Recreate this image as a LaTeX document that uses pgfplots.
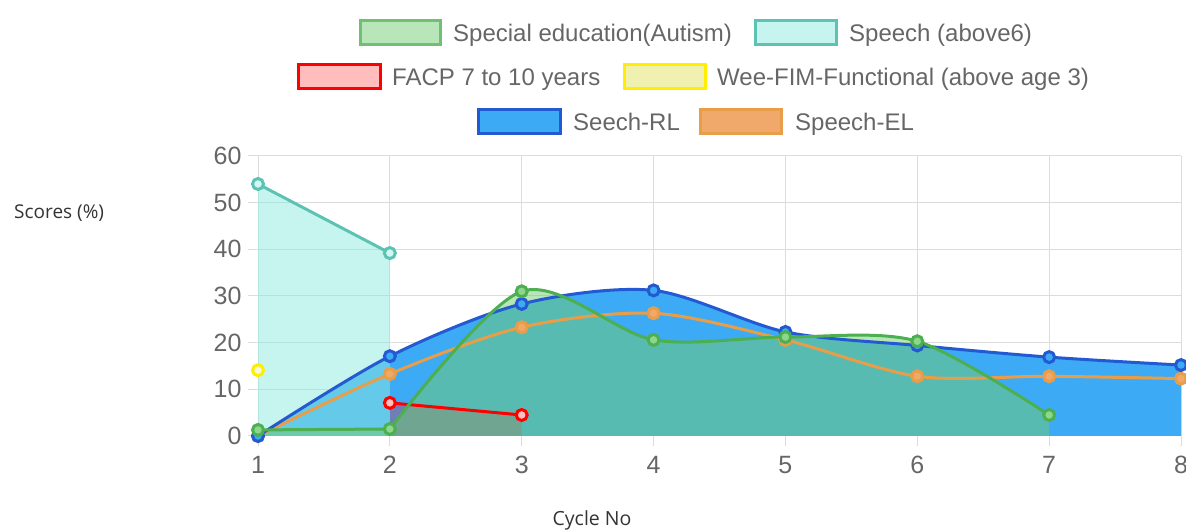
\documentclass[border=0pt]{standalone}
\usepackage{pgfplots}
\pgfplotsset{compat=1.18}
\usepackage{fontspec}
\setmainfont{Liberation Sans}
\newfontfamily\labfont{Open Sans}
\definecolor{gridc}{RGB}{220,220,220}
\definecolor{tickc}{RGB}{102,102,102}
\definecolor{greenl}{RGB}{76,175,80}
\definecolor{greenf}{RGB}{113,205,113}
\definecolor{cyanl}{RGB}{92,195,180}
\definecolor{cyanf}{RGB}{142,234,222}
\definecolor{redl}{RGB}{255,0,0}
\definecolor{yell}{RGB}{255,238,0}
\definecolor{yelf}{RGB}{240,240,176}
\definecolor{bluel}{RGB}{35,90,210}
\definecolor{bluef}{RGB}{61,170,245}
\definecolor{orl}{RGB}{232,158,72}
\definecolor{orf}{RGB}{240,169,106}
\definecolor{labc}{RGB}{51,51,51}
\begin{document}
\begin{tikzpicture}
\useasboundingbox (0pt,0pt) rectangle (1186pt,532pt);
\begin{axis}[
  at={(258pt,96pt)}, anchor=south west, scale only axis,
  width=923pt, height=280pt,
  xmin=1, xmax=8, ymin=0, ymax=60, clip=false,
  axis lines=left, axis line style={-, draw=gridc, line width=1pt},
  grid=major, major grid style={draw=gridc, line width=1pt},
  xtick={1,...,8}, ytick={0,10,...,60},
  tick align=outside, major tick length=10pt,
  tick style={draw=gridc, line width=1pt},
  ticklabel style={font=\fontsize{25}{25}\selectfont, text=tickc},
  xticklabel style={yshift=-7pt},
  yticklabel style={xshift=-3pt},
  /pgf/number format/assume math mode=true,
]
% fills
\addplot[draw=none, fill=bluef, smooth, tension=0.5] coordinates {(1,0) (2,17.1) (3,28.3) (4,31.2) (5,22.3) (6,19.4) (7,16.9) (8,15.2)} \closedcycle;
\addplot[draw=none, fill=redl, fill opacity=0.26] coordinates {(2,7.1) (3,4.5)} \closedcycle;
\addplot[draw=none, fill=cyanf, fill opacity=0.5] coordinates {(1,54) (2,39.2)} \closedcycle;
\addplot[draw=none, fill=greenf, fill opacity=0.5] coordinates {(1,1.3) (2,1.5)} \closedcycle;
\addplot[draw=none, fill=greenf, fill opacity=0.5, smooth, tension=0.5] coordinates {(2,1.5) (3,31) (4,20.6) (5,21.2) (6,20.3) (7,4.5)} \closedcycle;
% lines
\addplot[draw=orl, line width=3pt, smooth, tension=0.5, mark=*, mark size=5.5pt, mark options={line width=3pt, fill=orf, draw=orl}] coordinates {(1,0) (2,13.3) (3,23.3) (4,26.3) (5,20.6) (6,12.8) (7,12.8) (8,12.3)};
\addplot[draw=bluel, line width=3pt, smooth, tension=0.5, mark=*, mark size=5.5pt, mark options={line width=3pt, fill=bluef, draw=bluel}] coordinates {(1,0) (2,17.1) (3,28.3) (4,31.2) (5,22.3) (6,19.4) (7,16.9) (8,15.2)};
\addplot[draw=yell, line width=3pt, mark=*, mark size=5.5pt, mark options={line width=3pt, fill=yelf!50!white, draw=yell}] coordinates {(1,14.1)};
\addplot[draw=redl, line width=3pt, mark=*, mark size=5.5pt, mark options={line width=3pt, fill=redl!25, draw=redl}] coordinates {(2,7.1) (3,4.5)};
\addplot[draw=cyanl, line width=3pt, mark=*, mark size=5.5pt, mark options={line width=3pt, fill=cyanf!40!white, draw=cyanl}] coordinates {(1,54) (2,39.2)};
\addplot[draw=greenl, line width=3pt] coordinates {(1,1.3) (2,1.5)};
\addplot[draw=greenl, line width=3pt, smooth, tension=0.5] coordinates {(2,1.5) (3,31) (4,20.6) (5,21.2) (6,20.3) (7,4.5)};
\addplot[draw=none, mark=*, mark size=5.5pt, mark options={line width=3pt, fill=greenf!80!white, draw=greenl}] coordinates {(1,1.3) (2,1.5) (3,31) (4,20.6) (5,21.2) (6,20.3) (7,4.5)};
\end{axis}
% legend
\tikzset{lt/.style={anchor=base west, inner sep=0pt, text=tickc, font=\fontsize{24}{24}\selectfont}}
\fill[greenf, fill opacity=0.5] (360pt,487pt) rectangle (440pt,511pt);
\draw[greenl!80!white, line width=3pt] (360pt,487pt) rectangle (440pt,511pt);
\node[lt] at (453pt,490.5pt) {Special education(Autism)};
\fill[cyanf, fill opacity=0.5] (755pt,487pt) rectangle (836pt,511pt);
\draw[cyanl, line width=3pt] (755pt,487pt) rectangle (836pt,511pt);
\node[lt] at (849pt,490.5pt) {Speech (above6)};
\fill[redl, fill opacity=0.26] (298pt,443pt) rectangle (380pt,467pt);
\draw[redl, line width=3pt] (298pt,443pt) rectangle (380pt,467pt);
\node[lt] at (392pt,446.5pt) {FACP 7 to 10 years};
\fill[yelf] (624pt,443pt) rectangle (705pt,467pt);
\draw[yell, line width=3pt] (624pt,443pt) rectangle (705pt,467pt);
\node[lt] at (717pt,446.5pt) {Wee-FIM-Functional (above age 3)};
\fill[bluef] (478pt,398pt) rectangle (560pt,422pt);
\draw[bluel, line width=3pt] (478pt,398pt) rectangle (560pt,422pt);
\node[lt] at (573pt,401.5pt) {Seech-RL};
\fill[orf] (700pt,398pt) rectangle (781pt,422pt);
\draw[orl, line width=3pt] (700pt,398pt) rectangle (781pt,422pt);
\node[lt] at (795pt,401.5pt) {Speech-EL};
% axis titles
\node[anchor=west, inner sep=0pt, text=labc, font=\labfont\fontsize{19}{19}\selectfont] at (14pt,319pt) {Scores (\%)};
\node[inner sep=0pt, text=labc, font=\labfont\fontsize{19.5}{19.5}\selectfont] at (592pt,12pt) {Cycle No};
\end{tikzpicture}
\end{document}
